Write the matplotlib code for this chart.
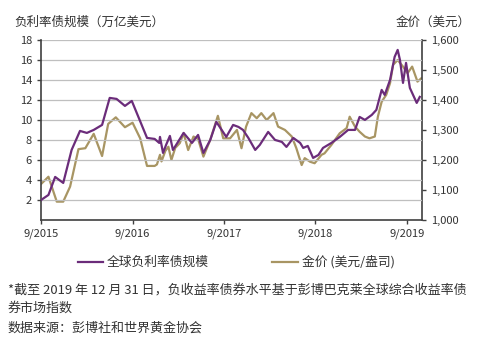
import numpy as np
import matplotlib.pyplot as plt
from matplotlib.ticker import FuncFormatter

plt.rcParams['font.family'] = ['Noto Sans CJK SC', 'DejaVu Sans']

# months since 9/2015, debt volume (trillion USD)
debt_m = [0, 0.96, 1.84, 2.9, 4.0, 5.1, 6.0, 6.9, 8.0, 9.0, 9.9, 11.0, 11.9, 13.9, 14.9,
          15.5, 15.6, 16.0, 16.4, 16.9, 17.3, 17.8, 18.7, 19.8, 20.6, 21.3, 22.2, 23.0,
          23.7, 24.3, 25.2, 25.9, 26.5, 27.2, 28.1, 28.7, 29.8, 30.7, 31.6, 32.2, 33.1,
          34.0, 34.4, 35.0, 35.7, 36.4, 37.0, 38.1, 39.2, 40.3, 41.2, 41.8, 42.5, 43.4,
          44.0, 44.7, 45.1, 45.8, 46.4, 46.8, 47.1, 47.5, 47.9, 48.4, 49.3, 49.7]
debt_v = [2.0, 2.5, 4.3, 3.7, 7.0, 8.9, 8.7, 9.0, 9.5, 12.2, 12.1, 11.4, 11.9, 8.2, 8.1,
          7.7, 8.3, 6.7, 7.5, 8.4, 7.0, 7.6, 8.7, 7.7, 8.5, 6.7, 8.0, 9.8,
          9.0, 8.3, 9.5, 9.3, 9.0, 8.2, 7.0, 7.5, 8.8, 8.0, 7.8, 7.3, 8.2,
          7.7, 7.2, 7.4, 6.2, 6.5, 7.2, 7.7, 8.3, 9.0, 9.0, 10.3, 10.0, 10.5,
          11.0, 13.0, 12.5, 14.0, 16.3, 17.0, 16.0, 13.7, 15.7, 13.2, 11.7, 12.3]

# months since 9/2015, gold price (USD/oz)
gold_m = [0, 0.96, 2.05, 2.9, 3.8, 4.9, 5.8, 6.9, 8.0, 8.8, 9.8, 11.0, 12.0, 13.0, 13.9,
          14.9, 15.2, 15.6, 15.8, 16.3, 16.7, 17.1, 17.6, 18.2, 18.7, 19.3, 20.0, 20.6,
          21.3, 22.2, 23.2, 23.9, 24.8, 25.7, 26.3, 26.9, 27.6, 28.3, 28.9, 29.6, 30.5,
          31.1, 32.0, 32.9, 33.5, 34.2, 34.6, 35.3, 35.9, 36.8, 37.2, 38.1, 39.2, 40.1,
          40.5, 41.2, 41.8, 42.5, 43.1, 43.8, 44.2, 44.7, 45.3, 45.8, 46.2, 46.8, 47.5,
          48.1, 48.7, 49.4, 49.9]
gold_v = [1120, 1144, 1061, 1061, 1111, 1236, 1239, 1287, 1213, 1320, 1342, 1309, 1324, 1272, 1180,
          1180, 1185, 1217, 1195, 1230, 1244, 1200, 1240, 1256, 1289, 1233, 1278, 1270,
          1211, 1267, 1347, 1272, 1272, 1300, 1239, 1311, 1356, 1339, 1356, 1333, 1356,
          1311, 1300, 1278, 1239, 1183, 1206, 1194, 1189, 1217, 1222, 1250, 1289, 1306,
          1344, 1311, 1294, 1278, 1272, 1278, 1344, 1394, 1417, 1456, 1517, 1533, 1511,
          1489, 1511, 1461, 1472]

x_ticks = [0, 12, 24, 36, 48]
x_labels = ['9/2015', '9/2016', '9/2017', '9/2018', '9/2019']

purple = '#6B2C7A'
gold = '#A89563'

fig = plt.figure(figsize=(4.84, 3.41), dpi=100)
ax = fig.add_axes([0.085, 0.355, 0.787, 0.528])
ax2 = ax.twinx()

ax.plot(debt_m, debt_v, color=purple, lw=1.6, zorder=3)
ax2.plot(gold_m, gold_v, color=gold, lw=1.6, zorder=2)
ax.set_zorder(ax2.get_zorder() + 1)
ax.patch.set_visible(False)

ax.set_xlim(0, 50)
ax.set_ylim(0, 18)
ax2.set_ylim(1000, 1600)
ax.set_yticks(range(2, 19, 2))
ax2.set_yticks(range(1000, 1601, 100))
ax2.yaxis.set_major_formatter(FuncFormatter(lambda v, p: f'{int(v):,}'))
ax.set_xticks(x_ticks)
ax.set_xticklabels(x_labels)
ax.yaxis.grid(True, color='#BFBFBF', lw=0.9)

for a in (ax, ax2):
    a.spines['top'].set_visible(False)
    for s in ('left', 'right', 'bottom'):
        a.spines[s].set_color('#404040')
        a.spines[s].set_linewidth(1.2)
    a.tick_params(labelsize=8, colors='#404040', length=3, width=1, labelcolor='#333333')
ax.spines['right'].set_visible(False)
ax2.spines['left'].set_visible(False)
ax2.spines['bottom'].set_visible(False)

fig.text(0.03, 0.935, '负利率债规模（万亿美元）', fontsize=9, style='italic', color='#333333', va='center')
fig.text(0.972, 0.935, '金价（美元）', fontsize=9, style='italic', color='#333333', va='center', ha='right')

# legend
fig.lines.append(plt.Line2D([0.162, 0.213], [0.232, 0.232], color=purple, lw=1.6, transform=fig.transFigure))
fig.text(0.221, 0.232, '全球负利率债规模', fontsize=9.2, color='#333333', va='center')
fig.lines.append(plt.Line2D([0.562, 0.616], [0.232, 0.232], color=gold, lw=1.6, transform=fig.transFigure))
fig.text(0.624, 0.232, '金价 (美元/盎司)', fontsize=9.2, color='#333333', va='center')

fig.text(0.016, 0.123, '*截至 2019 年 12 月 31 日，负收益率债券水平基于彭博巴克莱全球综合收益率债\n券市场指数',
         fontsize=9.4, color='#333333', va='center', linespacing=1.45)
fig.text(0.016, 0.038, '数据来源：彭博社和世界黄金协会', fontsize=9.4, color='#333333', va='center')

fig.savefig('out.png', dpi=100)
